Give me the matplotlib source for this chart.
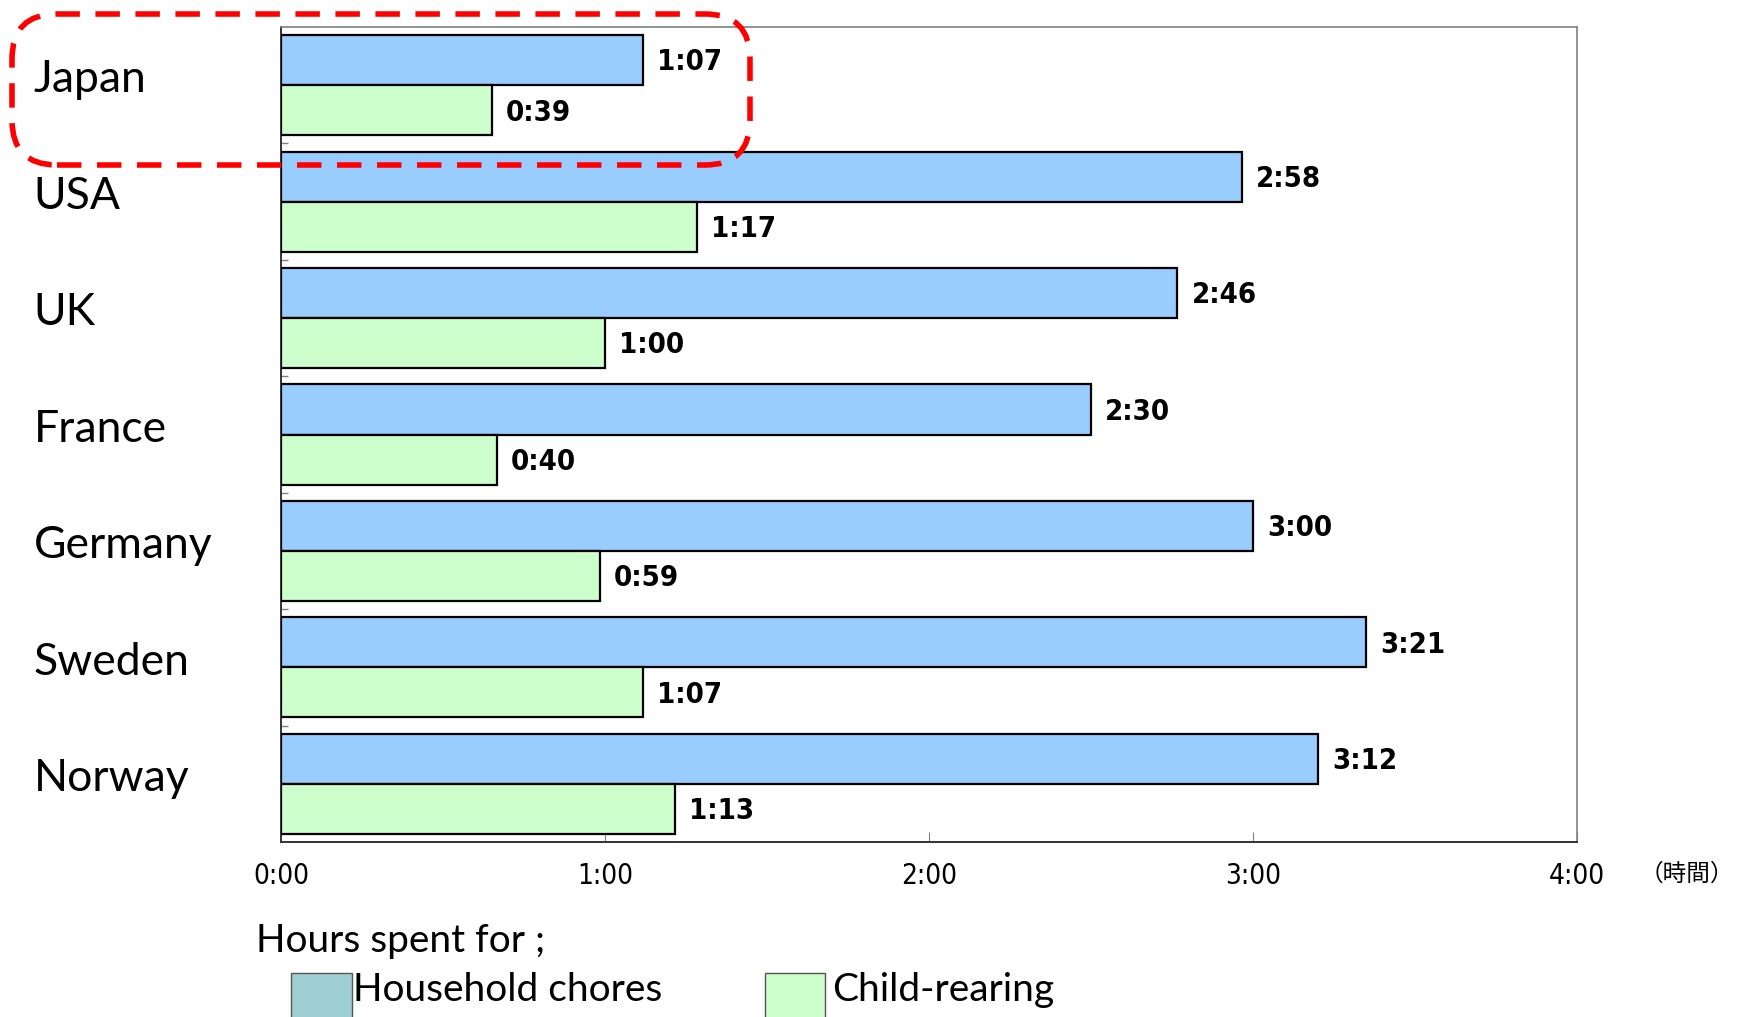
import matplotlib.pyplot as plt
from matplotlib.patches import Rectangle, FancyBboxPatch

countries = ['Japan', 'USA', 'UK', 'France', 'Germany', 'Sweden', 'Norway']
# minutes per day
chores = [67, 178, 166, 150, 180, 201, 192]
childcare = [39, 77, 60, 40, 59, 67, 73]
xticks = [0, 60, 120, 180, 240]

blue = '#99CCFF'
green = '#CCFFCC'
narrow = dict(family='DejaVu Sans', fontstretch='condensed')
body = ['Lato', 'DejaVu Sans']


def hm(m):
    return f"{m // 60}:{m % 60:02d}"


fig = plt.figure(figsize=(17.4, 10.17), dpi=100)
ax = fig.add_axes([0.1615, 0.172, 0.7448, 0.8015])

n = len(countries)
h = 0.43
for i in range(n):
    ax.barh(i + 0.07, chores[i], height=h, align='edge', color=blue,
            edgecolor='black', linewidth=1.6, zorder=3)
    ax.barh(i + 0.5, childcare[i], height=h, align='edge', color=green,
            edgecolor='black', linewidth=1.6, zorder=3)
    ax.text(chores[i] + 2.6, i + 0.305, hm(chores[i]), va='center', ha='left',
            fontsize=21, fontweight='bold', **narrow)
    ax.text(childcare[i] + 2.6, i + 0.735, hm(childcare[i]), va='center', ha='left',
            fontsize=21, fontweight='bold', **narrow)
    ax.text(-0.191, i + 0.455, countries[i], transform=ax.get_yaxis_transform(),
            va='center', ha='left', fontsize=32, family=body)

ax.set_xlim(0, 240)
ax.set_ylim(n, 0)
ax.set_xticks(xticks)
ax.set_xticklabels([hm(t) for t in xticks], fontsize=20, **narrow)
ax.tick_params(axis='x', direction='in', length=7, color='#808080', pad=14)
ax.set_yticks(range(1, n))
ax.set_yticklabels([])
ax.tick_params(axis='y', direction='in', length=5, color='#808080', width=1)

for s in ['top', 'right']:
    ax.spines[s].set_color('#808080')
    ax.spines[s].set_linewidth(1.2)
ax.spines['left'].set_color('#333333')
ax.spines['bottom'].set_color('#333333')
ax.spines['left'].set_linewidth(1.4)
ax.spines['bottom'].set_linewidth(1.4)

fig.text(1687 / 1740, 1 - 874 / 1017, '（時間）', ha='center', va='center',
         fontsize=17, family=['Noto Sans CJK JP', 'DejaVu Sans'])

# legend
fig.text(256 / 1740, 1 - 941 / 1017, 'Hours spent for ;', ha='left', va='center',
         fontsize=28, family=body)
fig.patches.append(Rectangle((291 / 1740, -0.02), 61 / 1740, 0.063,
                             transform=fig.transFigure, facecolor='#9ED0D3',
                             edgecolor='#555555', linewidth=1))
fig.text(353 / 1740, 1 - 990 / 1017, 'Household chores', ha='left', va='center',
         fontsize=28, family=body)
fig.patches.append(Rectangle((765 / 1740, -0.02), 60 / 1740, 0.063,
                             transform=fig.transFigure, facecolor=green,
                             edgecolor='#555555', linewidth=1))
fig.text(832 / 1740, 1 - 990 / 1017, 'Child-rearing', ha='left', va='center',
         fontsize=28, family=body)

# dashed highlight round Japan
box = FancyBboxPatch((0.12, 8.52), 7.38, 1.51,
                     boxstyle='round,pad=0,rounding_size=0.45',
                     transform=fig.dpi_scale_trans, fill=False,
                     edgecolor='#FF0000', linewidth=4,
                     linestyle=(0, (4.4, 2.8)), zorder=10)
fig.patches.append(box)

fig.savefig('out.png', dpi=100)
